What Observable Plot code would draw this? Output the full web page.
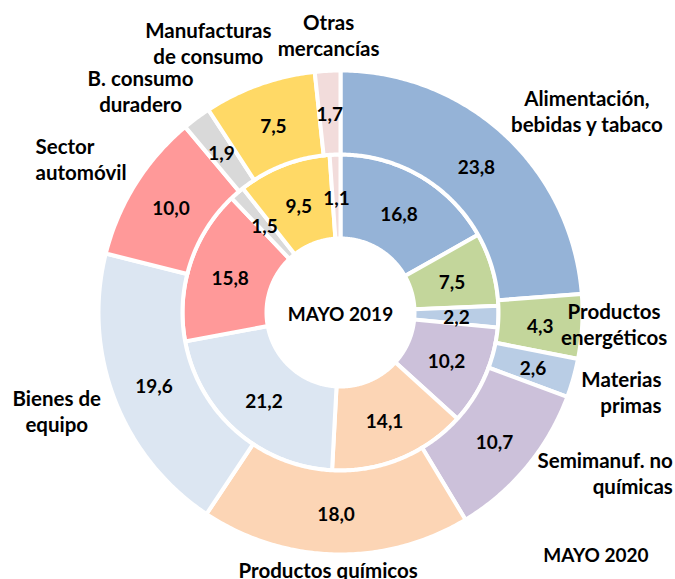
<!DOCTYPE html>
<html>
<head>
<meta charset="utf-8">
<script src="https://cdn.jsdelivr.net/npm/d3@7"></script>
<script src="https://cdn.jsdelivr.net/npm/@observablehq/plot@0.6"></script>
<style>
  html, body { margin: 0; padding: 0; background: #fff; }
  #chart svg { display: block; }
</style>
</head>
<body>
<div id="chart"></div>
<script>
// ---- data ----
const categories = [
  "Alimentación,\nbebidas y tabaco",
  "Productos\nenergéticos",
  "Materias\nprimas",
  "Semimanuf. no\nquímicas",
  "Productos químicos",
  "Bienes de\nequipo",
  "Sector\nautomóvil",
  "B. consumo\nduradero",
  "Manufacturas\nde consumo",
  "Otras\nmercancías"
];
const may2020 = [23.8, 4.3, 2.6, 10.7, 18.0, 19.6, 10.0, 1.9, 7.5, 1.7];   // outer ring
const may2019 = [16.8, 7.5, 2.2, 10.2, 14.1, 21.2, 15.8, 1.5, 9.5, 1.1];   // inner ring
const seriesNames = ["MAYO 2019", "MAYO 2020"];
const colors = ["#95B3D7", "#C3D69B", "#B9CDE5", "#CCC1DA", "#FCD5B5",
                "#DCE6F2", "#FF9999", "#D9D9D9", "#FFD966", "#F2DCDB"];

// ---- layout (not data) ----
const W = 675, H = 579;
const CX = 340, CY = 312;
const rHole = 74, rMid = 158, rOuter = 242;
// category label nudges relative to the outer edge at each slice's mid-angle
const labelLayout = [
  {dx: 82, dy: -24, anchor: "middle"},
  {dx: 32, dy: -3, anchor: "middle"},
  {dx: 88, dy: 14, anchor: "end"},
  {dx: 146, dy: 6, anchor: "end"},
  {dx: -7, dy: 15, anchor: "middle"},
  {dx: -58, dy: 11, anchor: "middle"},
  {dx: -100, dy: -25, anchor: "start"},
  {dx: -56, dy: -27, anchor: "middle"},
  {dx: -51, dy: -42, anchor: "middle"},
  {dx: 1, dy: -36, anchor: "middle"}
];

const pie = d3.pie().sort(null).value(d => d);
const rings = [
  {values: may2019, r0: rHole, r1: rMid, ring: "inner"},
  {values: may2020, r0: rMid, r1: rOuter, ring: "outer"}
];

const polys = [];
const valueLabels = [];
const catLabels = [];
const px = (r, a) => r * Math.sin(a);
const py = (r, a) => -r * Math.cos(a);

rings.forEach(ring => {
  const arcs = pie(ring.values);
  arcs.forEach((a, i) => {
    const key = ring.ring + i;
    const n = Math.max(4, Math.ceil((a.endAngle - a.startAngle) / 0.01));
    for (let k = 0; k <= n; k++) {
      const t = a.startAngle + (a.endAngle - a.startAngle) * k / n;
      polys.push({key, color: colors[i], x: px(ring.r1, t), y: py(ring.r1, t)});
    }
    for (let k = n; k >= 0; k--) {
      const t = a.startAngle + (a.endAngle - a.startAngle) * k / n;
      polys.push({key, color: colors[i], x: px(ring.r0, t), y: py(ring.r0, t)});
    }
    const mid = (a.startAngle + a.endAngle) / 2;
    const rm = (ring.r0 + ring.r1) / 2;
    valueLabels.push({x: px(rm, mid), y: py(rm, mid), text: ring.values[i].toFixed(1).replace(".", ",")});
    if (ring.ring === "outer") {
      const L = labelLayout[i];
      catLabels.push({x: px(rOuter, mid) + L.dx, y: py(rOuter, mid) + L.dy, text: categories[i], anchor: L.anchor});
    }
  });
});

const font = "Lato, 'Open Sans', sans-serif";
const textOpts = {fontFamily: font, fontWeight: "bold", fontSize: 19, fill: "#000", lineHeight: 1.4};
const catOpts = {fontFamily: font, fontWeight: "bold", fontSize: 20.5, fill: "#000", lineHeight: 1.27};

const chart = Plot.plot({
  width: W,
  height: H,
  margin: 0,
  x: {domain: [-CX, W - CX], range: [0, W], axis: null},
  y: {domain: [-CY, H - CY], range: [0, H], axis: null},
  color: {type: "identity"},
  style: {background: "#fff", overflow: "visible"},
  marks: [
    Plot.line(polys, {x: "x", y: "y", z: "key", fill: "color", stroke: "white", strokeWidth: 4,
      strokeLinejoin: "miter", strokeMiterlimit: 4, curve: "linear-closed"}),
    Plot.text(valueLabels, {x: "x", y: "y", text: "text", ...textOpts}),
    ...["start", "middle", "end"].map(anc =>
      Plot.text(catLabels.filter(d => d.anchor === anc), {x: "x", y: "y", text: "text", textAnchor: anc, ...catOpts})
    ),
    Plot.text([seriesNames[0]], {x: () => 0, y: () => 0, text: d => d, ...textOpts}),
    Plot.text([seriesNames[1]], {frameAnchor: "bottom-right", text: d => d, textAnchor: "end", lineAnchor: "middle", dx: -27, dy: -26, ...textOpts})
  ]
});

document.getElementById("chart").appendChild(chart);
</script>
</body>
</html>
